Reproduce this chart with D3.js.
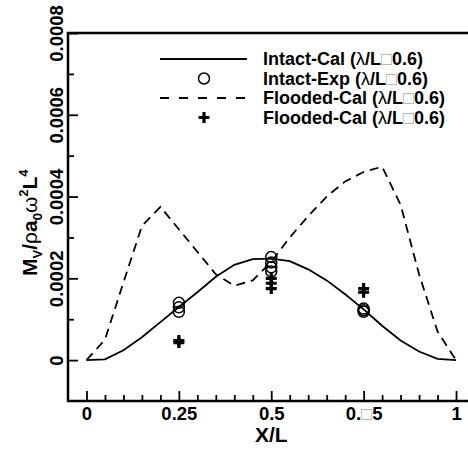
<!DOCTYPE html>
<html>
<head>
<meta charset="utf-8">
<script src="https://cdn.jsdelivr.net/npm/d3@7"></script>
<style>
  body { margin: 0; background: #fff; }
  text { font-family: "Liberation Sans", Arial, sans-serif; font-weight: bold; }
</style>
</head>
<body>
<div id="container"></div>
<script>
// datos
const calX = [0, 0.05, 0.1, 0.15, 0.2, 0.25, 0.3, 0.35, 0.4, 0.45, 0.5,
              0.55, 0.6, 0.65, 0.7, 0.75, 0.8, 0.85, 0.9, 0.95, 1];
const intactCal = [0, 0.000002, 0.000024, 0.000056, 0.000093, 0.00013, 0.000166,
                   0.000204, 0.000233, 0.000247, 0.000248, 0.000242, 0.000222,
                   0.000195, 0.000161, 0.000124, 0.000084, 0.000048, 0.000021,
                   0.000003, 0];
const floodedCal = [0, 0.00005, 0.00019, 0.000328, 0.000375, 0.00032, 0.000265,
                    0.00021, 0.000182, 0.000195, 0.00024, 0.0003, 0.000352,
                    0.0004, 0.000437, 0.00046, 0.000473, 0.00038, 0.00021,
                    0.00007, 0];
const intactExpX = [0.25, 0.25, 0.25, 0.5, 0.5, 0.5, 0.5, 0.75, 0.75, 0.75];
const intactExp = [0.00014, 0.000129, 0.000118, 0.000252, 0.000239, 0.000227,
                   0.000217, 0.000126, 0.000122, 0.000118];
const floodedExpX = [0.25, 0.25, 0.5, 0.5, 0.5, 0.75, 0.75];
const floodedExp = [0.000043, 0.000048, 0.0002, 0.000188, 0.000175, 0.000175, 0.000166];

const xTicks = [0, 0.25, 0.5, 0.75, 1];
const xTickLabels = ["0", "0.25", "0.5", "0.\u25A15", "1"];
const yTicks = [0, 0.0002, 0.0004, 0.0006, 0.0008];
const yTickLabels = ["0", "0.0002", "0.0004", "0.0006", "0.0008"];
const legendLabels = ["Intact-Cal", "Intact-Exp", "Flooded-Cal", "Flooded-Cal"];

const WIDTH = 468, HEIGHT = 449;
const margin = { left: 68, top: 33, bottom: 48 };

const svg = d3.select('#container').append('svg')
    .attr("width", WIDTH).attr("height", HEIGHT);

const x = d3.scaleLinear().domain([-0.05, 1.05]).range([margin.left, 474.5]);
const y = d3.scaleLinear().domain([-0.0001, 0.0008]).range([HEIGHT - margin.bottom, margin.top]);

// texto con el cuadro gris y la lambda fina
const fancy = (sel, str) => {
    str.split(/([\u25A1\u03BB])/).forEach(part => {
        if (!part) return;
        const t = sel.append("tspan").text(part);
        if (part === "\u25A1") t.attr("fill", "#aaa").style("font-weight", "normal");
        if (part === "\u03BB") t.style("font-weight", "normal");
    });
};

// curvas
const line = d3.line().x(d => x(d[0])).y(d => y(d[1]));
svg.append("path")
    .attr("d", line(calX.map((v, i) => [v, intactCal[i]])))
    .attr("fill", "none").attr("stroke", "#000").attr("stroke-width", 1.8);
svg.append("path")
    .attr("d", line(calX.map((v, i) => [v, floodedCal[i]])))
    .attr("fill", "none").attr("stroke", "#000").attr("stroke-width", 1.8)
    .attr("stroke-dasharray", "9,6");

// simbolos
svg.append("g").selectAll("circle")
    .data(intactExp)
    .join("circle")
    .attr("cx", (d, i) => x(intactExpX[i]))
    .attr("cy", d => y(d))
    .attr("r", 5.5)
    .attr("fill", "none").attr("stroke", "#000").attr("stroke-width", 1.5);

const plus = (g, cx, cy) => {
    g.append("path")
        .attr("d", `M${cx - 5.5},${cy}H${cx + 5.5}M${cx},${cy - 5.5}V${cy + 5.5}`)
        .attr("stroke", "#000").attr("stroke-width", 3.2).attr("fill", "none");
};
const plusG = svg.append("g");
floodedExp.forEach((d, i) => plus(plusG, x(floodedExpX[i]), y(d)));

// marco
svg.append("rect")
    .attr("x", margin.left).attr("y", margin.top)
    .attr("width", 474.5 - margin.left).attr("height", HEIGHT - margin.bottom - margin.top)
    .attr("fill", "none").attr("stroke", "#000").attr("stroke-width", 2.5);

// ejes
const xAxisG = svg.append("g")
    .attr("transform", `translate(0, ${HEIGHT - margin.bottom})`)
    .call(d3.axisBottom(x).tickValues(xTicks).tickSize(-10).tickPadding(6)
        .tickFormat((d, i) => xTickLabels[i]));
svg.append("g")
    .attr("transform", `translate(0, ${HEIGHT - margin.bottom})`)
    .call(d3.axisBottom(x).tickValues(d3.range(1, 20).filter(k => k % 5).map(k => k * 0.05))
        .tickSize(-6).tickFormat(""));

const yAxisG = svg.append("g")
    .attr("transform", `translate(${margin.left}, 0)`)
    .call(d3.axisLeft(y).tickValues(yTicks).tickSize(-10)
        .tickFormat((d, i) => yTickLabels[i]));
svg.append("g")
    .attr("transform", `translate(${margin.left}, 0)`)
    .call(d3.axisLeft(y).tickValues([0.0001, 0.0003, 0.0005, 0.0007]).tickSize(-6).tickFormat(""));

svg.selectAll(".domain").remove();
svg.selectAll(".tick line").attr("stroke", "#000").attr("stroke-width", 1.8);

xAxisG.selectAll("text")
    .attr("fill", "#000").style("font-size", "18.5px")
    .each(function () {
        const s = d3.select(this), str = s.text();
        s.text(null); fancy(s, str);
    });
yAxisG.selectAll("text")
    .attr("fill", "#000").style("font-size", "18.5px")
    .attr("x", 0).attr("y", -5).attr("dy", 0)
    .attr("text-anchor", "middle")
    .attr("transform", "rotate(-90)");

// titulos de ejes
svg.append("text")
    .attr("x", x(0.5)).attr("y", 442)
    .attr("text-anchor", "middle")
    .style("font-size", "21px")
    .text("X/L");

const yl = svg.append("text")
    .attr("transform", "translate(37, 276) rotate(-90)")
    .style("font-size", "21px");
yl.append("tspan").text("M");
yl.append("tspan").text("V").attr("dy", 5).style("font-size", "13px");
yl.append("tspan").text("/").attr("dy", -5);
yl.append("tspan").text("ρ").style("font-weight", "normal");
yl.append("tspan").text("a");
yl.append("tspan").text("0").attr("dy", 5).style("font-size", "13px");
yl.append("tspan").text("ω").attr("dy", -5).style("font-weight", "normal");
yl.append("tspan").text("2").attr("dy", -9).style("font-size", "13px");
yl.append("tspan").text("L").attr("dy", 9);
yl.append("tspan").text("4").attr("dy", -9).style("font-size", "13px");

// leyenda
const rows = [59, 78.5, 98, 117.5];
const lg = svg.append("g");
lg.append("line").attr("x1", 160).attr("x2", 247).attr("y1", rows[0]).attr("y2", rows[0])
    .attr("stroke", "#000").attr("stroke-width", 1.8);
lg.append("circle").attr("cx", 204).attr("cy", rows[1]).attr("r", 5.5)
    .attr("fill", "none").attr("stroke", "#000").attr("stroke-width", 1.5);
lg.append("line").attr("x1", 160).attr("x2", 247).attr("y1", rows[2]).attr("y2", rows[2])
    .attr("stroke", "#000").attr("stroke-width", 1.8).attr("stroke-dasharray", "9,10");
plus(lg, 204, rows[3]);
legendLabels.forEach((lab, i) => {
    const t = lg.append("text").attr("x", 263).attr("y", rows[i] + 6).style("font-size", "18px");
    fancy(t, `${lab} (\u03BB/L\u25A10.6)`);
});
</script>
</body>
</html>
